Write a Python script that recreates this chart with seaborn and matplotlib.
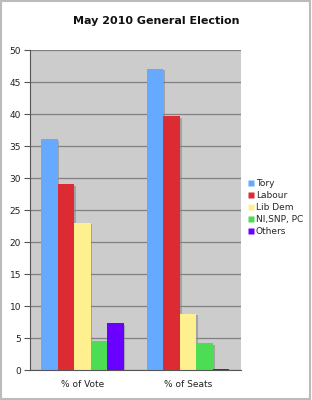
import matplotlib
matplotlib.use("Agg")
import matplotlib.pyplot as plt
import matplotlib.patheffects as pe
import seaborn as sns
import pandas as pd

categories = ["% of Vote", "% of Seats"]
parties = ["Tory", "Labour", "Lib Dem", "NI,SNP, PC", "Others"]
vote_share = [36.1, 29.0, 23.0, 4.5, 7.3]
seat_share = [47.1, 39.7, 8.8, 4.2, 0.1]
colors = ["#66aaff", "#dd2b33", "#fff08f", "#4ddd55", "#6a00ff"]
yticks = [0, 5, 10, 15, 20, 25, 30, 35, 40, 45, 50]

rows = []
for cat, vals in zip(categories, [vote_share, seat_share]):
    for p, v in zip(parties, vals):
        rows.append({"cat": cat, "party": p, "value": v})
df = pd.DataFrame(rows)

sns.set_style("white")
plt.rcParams["font.family"] = ["DejaVu Sans"]

fig = plt.figure(figsize=(3.12, 4.0), dpi=100)
fig.patch.set_facecolor("white")
ax = fig.add_axes([0.0946, 0.075, 0.678, 0.80])

sns.barplot(data=df, x="cat", y="value", hue="party", order=categories,
            hue_order=parties, palette=colors, width=0.78, gap=0,
            saturation=1, ax=ax, legend=False, edgecolor="none")

for patch in ax.patches:
    patch.set_path_effects([pe.SimplePatchShadow(offset=(1.2, -1.2), shadow_rgbFace="#888888", alpha=0.6), pe.Normal()])

ax.set_facecolor("#cccccc")
ax.set_ylim(0, 50)
ax.set_xlim(-0.5, 1.5)
ax.set_yticks(yticks)
ax.set_yticklabels([str(t) for t in yticks], fontsize=6.5, color="#222222")
ax.set_xticks([0, 1])
ax.set_xticklabels(categories, fontsize=6.5, color="#222222")
ax.set_xticks([-0.5, 0.5, 1.5], minor=True)
ax.tick_params(axis="x", which="major", length=0, pad=7)
ax.tick_params(axis="x", which="minor", length=4, width=0.8, color="#555555", direction="out")
ax.tick_params(axis="y", length=4, width=0.8, color="#555555", direction="out", pad=2, left=True)
ax.set_xlabel("")
ax.set_ylabel("")
ax.yaxis.grid(True, color="#808080", linewidth=0.9)
ax.set_axisbelow(True)
for s in ["top", "right"]:
    ax.spines[s].set_visible(False)
ax.spines["left"].set_color("#555555")
ax.spines["bottom"].set_color("#555555")
ax.spines["left"].set_linewidth(0.8)
ax.spines["bottom"].set_linewidth(0.8)

fig.text(0.5, 0.948, "May 2010 General Election", ha="center", va="center",
         fontsize=8, fontweight="bold", color="#111111")

handles = [plt.Line2D([], [], marker="s", linestyle="none", markersize=5,
                      markerfacecolor=c, markeredgecolor="none") for c in colors]
fig.legend(handles, parties, loc="upper left", bbox_to_anchor=(0.795, 0.553),
           frameon=False, fontsize=6.5, handlelength=0.6, handletextpad=0.25,
           labelspacing=0.35, borderaxespad=0, borderpad=0)

border = plt.Rectangle((0.003, 0.003), 0.992, 0.994, transform=fig.transFigure,
                       fill=False, edgecolor="#bbbbbb", linewidth=1.5)
fig.add_artist(border)

fig.savefig("out.png", dpi=100)
